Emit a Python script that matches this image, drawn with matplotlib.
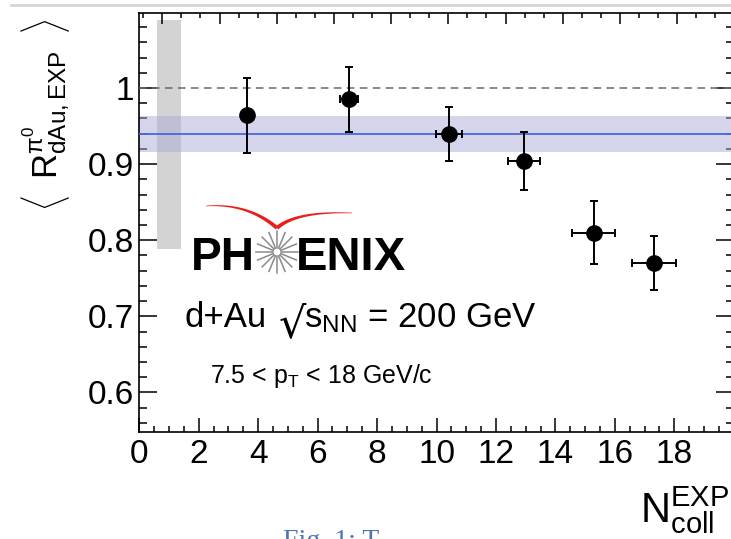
import numpy as np
import matplotlib.pyplot as plt
import matplotlib.transforms as mtransforms
from matplotlib.lines import Line2D
from matplotlib.patches import Rectangle, Circle, Polygon
from matplotlib.ticker import MultipleLocator

plt.rcParams['font.family'] = ['Liberation Sans', 'DejaVu Sans']
plt.rcParams['mathtext.fontset'] = 'custom'
plt.rcParams['mathtext.rm'] = 'Liberation Sans'
plt.rcParams['mathtext.it'] = 'Liberation Sans:italic'
plt.rcParams['mathtext.bf'] = 'Liberation Sans:bold'

# data
ncoll = [3.64, 7.06, 10.41, 12.94, 15.29, 17.32]
ncoll_err = [0.15, 0.30, 0.44, 0.53, 0.72, 0.75]
rdau = [0.964, 0.985, 0.9395, 0.904, 0.810, 0.770]
rdau_err = [0.049, 0.043, 0.035, 0.038, 0.041, 0.036]

# constant fit and its uncertainty band
fit_mean = 0.9395
fit_err = 0.024

# global normalisation box drawn at N_coll = 1
norm_x = 1.0
norm_halfwidth = 0.4
norm_center = 0.939
norm_err = 0.15

xticks = [0, 2, 4, 6, 8, 10, 12, 14, 16, 18]
yticks = [0.6, 0.7, 0.8, 0.9, 1.0]
ytick_labels = ['0.6', '0.7', '0.8', '0.9', '1']

W, H = 731, 539
fig = plt.figure(figsize=(W / 100, H / 100), dpi=100)
# pixel coordinates, origin top-left
pix = mtransforms.Affine2D().scale(1 / W, -1 / H).translate(0, 1) + fig.transFigure

x0, x1, ytop, ybot = 139.3, 733.7, 12.7, 432.0
ax = fig.add_axes([x0 / W, 1 - ybot / H, (x1 - x0) / W, (ybot - ytop) / H])

# normalisation box and fit band
ax.add_patch(Rectangle((norm_x - norm_halfwidth, norm_center - norm_err),
                       2 * norm_halfwidth, 2 * norm_err,
                       facecolor='#d3d3d3', lw=0, zorder=1))
ax.axhspan(fit_mean - fit_err, fit_mean + fit_err, facecolor='#aaaad6',
           alpha=0.5, lw=0, zorder=2)
ax.axhline(1.0, color='#6a6a6a', lw=1.1, dashes=(5, 3.5), zorder=3)
ax.axhline(fit_mean, color='#5263d8', lw=1.3, zorder=3)

ax.errorbar(ncoll, rdau, xerr=ncoll_err, yerr=rdau_err, fmt='o', color='black',
            ms=11, elinewidth=1.4, capsize=2.8, capthick=1.4, zorder=4)

ax.set_xlim(0, 20)
ax.set_ylim(0.548, 1.099)

# top axis carries its own tick spacing
ax2 = ax.twiny()
ax2.set_xlim(-0.402, 9.988)
ax2.xaxis.set_major_locator(MultipleLocator(1))
ax2.xaxis.set_minor_locator(MultipleLocator(1 / 3))
ax2.tick_params(axis='x', which='both', direction='in', top=True,
                labeltop=False, width=1.1)
ax2.tick_params(axis='x', which='major', length=8)
ax2.tick_params(axis='x', which='minor', length=3.5)
for sp in ax2.spines.values():
    sp.set_visible(False)

ax.set_xticks(xticks)
ax.set_xticklabels([str(t) for t in xticks])
ax.set_yticks(yticks)
ax.set_yticklabels(ytick_labels)
ax.xaxis.set_minor_locator(MultipleLocator(0.5))
ax.yaxis.set_minor_locator(MultipleLocator(0.02))
ax.tick_params(which='both', direction='in', left=True, right=True,
               bottom=True, top=False, width=1.1, labelsize=24)
ax.tick_params(axis='y', which='major', length=13, pad=4)
ax.tick_params(axis='y', which='minor', length=6)
ax.tick_params(axis='x', which='major', length=10, pad=5)
ax.tick_params(axis='x', which='minor', length=4)
for sp in ax.spines.values():
    sp.set_linewidth(1.2)

# axis titles
fig.text(45, 115,
         r'$\left\langle\;\;\mathregular{R^{\pi^0}_{dAu,EXP}}\;\;\right\rangle$',
         transform=pix, rotation=90, ha='center', va='center', fontsize=25)
fig.text(729, 523, r'$\mathregular{N^{EXP}_{coll}}$', transform=pix,
         ha='right', va='baseline', fontsize=30)

# PHENIX logo
fig.text(191, 270, 'PH', transform=pix, fontsize=33, fontweight='bold',
         ha='left', va='baseline')
fig.text(296, 270, 'ENIX', transform=pix, fontsize=34, fontweight='bold',
         ha='left', va='baseline')
cx, cy = 277, 252
for a in np.linspace(0, 2 * np.pi, 16, endpoint=False):
    fig.add_artist(Line2D([cx + 5 * np.cos(a), cx + 21 * np.cos(a)],
                          [cy + 5 * np.sin(a), cy + 21 * np.sin(a)],
                          transform=pix, color='#8a8a8a', lw=1.1))
fig.add_artist(Circle((cx, cy), 4, transform=pix, facecolor='white',
                      edgecolor='#8a8a8a', lw=0.8))


def swoosh(p0, c, p1, w0, w1):
    t = np.linspace(0, 1, 40)[:, None]
    p0, c, p1 = np.array(p0), np.array(c), np.array(p1)
    pts = (1 - t) ** 2 * p0 + 2 * (1 - t) * t * c + t ** 2 * p1
    d = 2 * (1 - t) * (c - p0) + 2 * t * (p1 - c)
    n = np.column_stack([-d[:, 1], d[:, 0]]) / np.hypot(d[:, 0], d[:, 1])[:, None]
    w = (w0 + (w1 - w0) * t) / 2
    return np.vstack([pts + n * w, (pts - n * w)[::-1]])


fig.add_artist(Polygon(swoosh((206, 206), (248, 203), (277, 228), 0.6, 4.0),
                       transform=pix, facecolor='#e8201c', lw=0))
fig.add_artist(Polygon(swoosh((277, 228), (296, 211), (352, 213), 4.0, 0.6),
                       transform=pix, facecolor='#e8201c', lw=0))

# collision system and kinematic range
fig.text(185, 327, 'd+Au', transform=pix, fontsize=25, va='baseline')
fig.text(279, 337, '\u221a', transform=pix, fontsize=31, va='baseline',
         family=['DejaVu Sans'])
fig.text(304, 327, r'$\mathregular{s_{NN}}$ = 200 GeV', transform=pix,
         fontsize=25, va='baseline')
fig.text(210, 383, r'7.5 < $\mathregular{p_{T}}$ < 18 GeV/c', transform=pix,
         fontsize=18, va='baseline')

# page residue around the screenshot
fig.add_artist(Line2D([11, W], [5, 5], transform=pix, color='#d6d6d6', lw=2))
fig.text(283, 548, 'Fig. 1: T', transform=pix, fontsize=20,
         family='Liberation Serif', color='#4f74b0', va='baseline')

fig.savefig('out.png', dpi=100)
